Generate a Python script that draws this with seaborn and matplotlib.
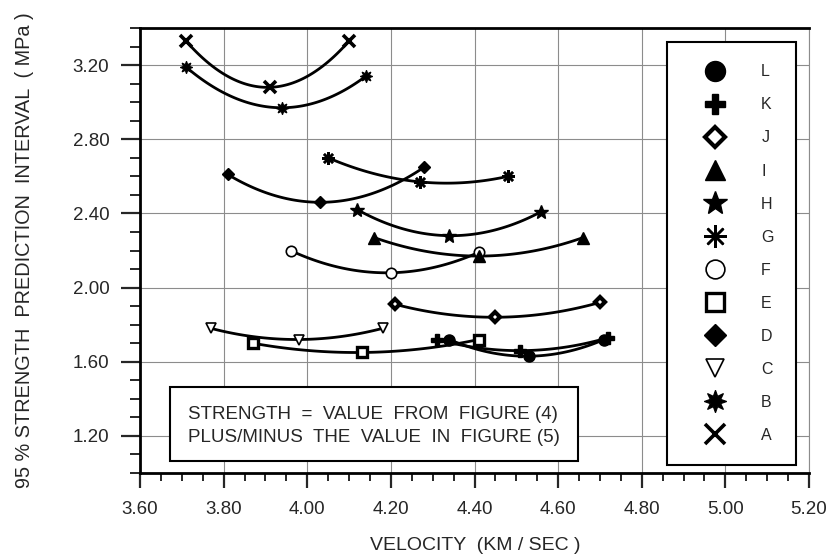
import matplotlib
matplotlib.use("Agg")
import matplotlib.pyplot as plt
import matplotlib.ticker as ticker
from matplotlib.patches import Rectangle
import seaborn as sns
import pandas as pd

# series: velocity (km/s) and 95% interval (MPa)
series_names = ["A", "B", "C", "D", "E", "F", "G", "H", "I", "J", "K", "L"]
vel_A = [3.71, 3.91, 4.10]
str_A = [3.33, 3.08, 3.33]
vel_B = [3.71, 3.94, 4.14]
str_B = [3.19, 2.97, 3.14]
vel_C = [3.77, 3.98, 4.18]
str_C = [1.78, 1.72, 1.78]
vel_D = [3.81, 4.03, 4.28]
str_D = [2.61, 2.46, 2.65]
vel_E = [3.87, 4.13, 4.41]
str_E = [1.70, 1.65, 1.72]
vel_F = [3.96, 4.20, 4.41]
str_F = [2.20, 2.08, 2.19]
vel_G = [4.05, 4.27, 4.48]
str_G = [2.70, 2.57, 2.60]
vel_H = [4.12, 4.34, 4.56]
str_H = [2.42, 2.28, 2.41]
vel_I = [4.16, 4.41, 4.66]
str_I = [2.27, 2.17, 2.27]
vel_J = [4.21, 4.45, 4.70]
str_J = [1.91, 1.84, 1.92]
vel_K = [4.31, 4.51, 4.72]
str_K = [1.72, 1.66, 1.73]
vel_L = [4.34, 4.53, 4.71]
str_L = [1.72, 1.63, 1.72]

note_lines = ["STRENGTH  =  VALUE  FROM  FIGURE (4)",
              "PLUS/MINUS  THE  VALUE  IN  FIGURE (5)"]

vels = [vel_A, vel_B, vel_C, vel_D, vel_E, vel_F, vel_G, vel_H, vel_I, vel_J, vel_K, vel_L]
strs = [str_A, str_B, str_C, str_D, str_E, str_F, str_G, str_H, str_I, str_J, str_K, str_L]
rows = []
for name, v, s in zip(series_names, vels, strs):
    for a, b in zip(v, s):
        rows.append((name, a, b))
df = pd.DataFrame(rows, columns=["series", "velocity", "strength"])

marker_styles = {
    "A": dict(marker="x", ms=8, mew=2.6, color="black"),
    "B": dict(marker=(8, 1, 0), ms=9, mew=0.8, color="black"),
    "C": dict(marker="v", ms=7.5, mew=1.2, mfc="white", mec="black"),
    "D": dict(marker="D", ms=6.5, color="black"),
    "E": dict(marker="s", ms=7, mew=2.4, mfc="white", mec="black"),
    "F": dict(marker="o", ms=7.5, mew=1.2, mfc="white", mec="black"),
    "G": dict(marker=(8, 2, 0), ms=9, mew=1.8, color="black"),
    "H": dict(marker="*", ms=10, color="black"),
    "I": dict(marker="^", ms=8, color="black"),
    "J": dict(marker="D", ms=5.5, mew=3.0, mfc="white", mec="black"),
    "K": dict(marker="P", ms=8, color="black"),
    "L": dict(marker="o", ms=8, color="black"),
}

sns.set_style("ticks")
plt.rcParams["font.family"] = ["Liberation Sans", "DejaVu Sans"]

fig = plt.figure(figsize=(8.35, 5.6), dpi=100)
ax = fig.add_axes([140 / 835, 1 - 473 / 560, 669 / 835, 445 / 560])

handles = []
for name in series_names:
    sub = df[df["series"] == name]
    # quadratic through the three points, like the original smooth curves
    sns.regplot(data=sub, x="velocity", y="strength", order=2, ci=None,
                scatter=False, truncate=True, ax=ax,
                line_kws=dict(color="black", lw=2.0, zorder=2))
    h, = ax.plot(sub["velocity"], sub["strength"], linestyle="none",
                 label=name, zorder=3, **marker_styles[name])
    handles.append(h)

ax.set_xlim(3.60, 5.20)
ax.set_ylim(1.00, 3.40)
ax.xaxis.set_major_locator(ticker.MultipleLocator(0.2))
ax.xaxis.set_minor_locator(ticker.MultipleLocator(0.05))
ax.yaxis.set_major_locator(ticker.MultipleLocator(0.4))
ax.yaxis.set_minor_locator(ticker.MultipleLocator(0.1))
ax.xaxis.set_major_formatter(ticker.FormatStrFormatter("%.2f"))
ax.yaxis.set_major_formatter(ticker.FormatStrFormatter("%.2f"))

ax.grid(which="major", color="#8c8c8c", lw=0.8)
ax.set_axisbelow(True)
ax.set_xlabel("")
ax.set_ylabel("")

ax.tick_params(axis="y", which="major", length=14, width=1.6, labelsize=13.5, pad=8)
ax.tick_params(axis="y", which="minor", length=7, width=1.4)
ax.tick_params(axis="x", which="major", length=11, width=1.6, labelsize=13.5, pad=9)
ax.tick_params(axis="x", which="minor", length=6, width=1.4)

for side in ["left", "bottom", "top"]:
    ax.spines[side].set_linewidth(2.0)
    ax.spines[side].set_color("black")
ax.spines["right"].set_linewidth(0.8)
ax.spines["right"].set_color("#8c8c8c")

# note box in the lower left
ax.add_patch(Rectangle((0.0448, 0.027), 0.61, 0.166, transform=ax.transAxes,
                       facecolor="white", edgecolor="black", lw=1.5, zorder=4))
ax.text(0.0717, 0.131, note_lines[0], transform=ax.transAxes, fontsize=13.5,
        va="center", ha="left", zorder=5)
ax.text(0.0717, 0.079, note_lines[1], transform=ax.transAxes, fontsize=13.5,
        va="center", ha="left", zorder=5)

leg = ax.legend(handles[::-1], series_names[::-1], loc="upper left",
                bbox_to_anchor=(0.7877, 0.9685), frameon=True, fancybox=False,
                edgecolor="black", framealpha=1, fontsize=11.5, markerscale=1.8,
                labelspacing=1.13, borderpad=1.4, handlelength=3.2,
                handletextpad=1.3, borderaxespad=0)
leg.get_frame().set_linewidth(1.5)
leg.set_zorder(6)

fig.text(475 / 835, 1 - 545 / 560, "VELOCITY  (KM / SEC )", ha="center",
         va="center", fontsize=14)
fig.text(25 / 835, 1 - 250 / 560, "95 % STRENGTH  PREDICTION  INTERVAL  ( MPa )",
         ha="center", va="center", rotation=90, fontsize=14.3)

fig.savefig("out.png", dpi=100)
